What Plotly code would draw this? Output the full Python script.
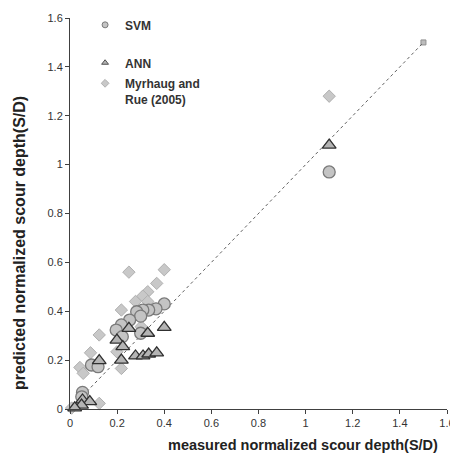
import plotly.graph_objects as go

# Data
svm_x = [1.10, 0.40, 0.365, 0.334, 0.309, 0.283, 0.30, 0.253, 0.218, 0.196, 0.222, 0.30, 0.091, 0.119, 0.053, 0.05]
svm_y = [0.97, 0.43, 0.41, 0.405, 0.405, 0.398, 0.38, 0.364, 0.344, 0.323, 0.296, 0.31, 0.18, 0.173, 0.068, 0.05]

ann_x = [1.10, 0.40, 0.33, 0.25, 0.199, 0.224, 0.124, 0.218, 0.278, 0.31, 0.334, 0.368, 0.053, 0.084, 0.049, 0.02]
ann_y = [1.08, 0.334, 0.31, 0.33, 0.282, 0.255, 0.198, 0.20, 0.217, 0.217, 0.225, 0.23, 0.037, 0.03, 0.016, 0.005]

myr_x = [1.10, 0.25, 0.40, 0.368, 0.33, 0.309, 0.278, 0.33, 0.218, 0.302, 0.124, 0.199, 0.087, 0.218, 0.042, 0.056, 0.124, 0.007]
myr_y = [1.28, 0.56, 0.57, 0.514, 0.48, 0.462, 0.44, 0.44, 0.405, 0.337, 0.303, 0.234, 0.23, 0.166, 0.17, 0.146, 0.023, 0.004]

line_x = [0, 1.5]
line_y = [0, 1.5]

tick_vals = [0, 0.2, 0.4, 0.6, 0.8, 1.0, 1.2, 1.4, 1.6]
tick_text = ["0", "0.2", "0.4", "0.6", "0.8", "1", "1.2", "1.4", "1.6"]

FONT = "Liberation Sans, Arial"

fig = go.Figure()

fig.add_trace(go.Scatter(x=line_x, y=line_y, mode="lines+markers",
                         line=dict(color="#606060", width=1, dash="dot"),
                         marker=dict(symbol="square", size=[0, 5], color="#a0a0a0"),
                         showlegend=False, cliponaxis=False, hoverinfo="skip"))

fig.add_trace(go.Scatter(x=myr_x, y=myr_y, mode="markers", showlegend=False,
                         marker=dict(symbol="diamond", size=9.5, color="#c8c8c8",
                                     line=dict(color="#b0b0b0", width=1)),
                         cliponaxis=False))
fig.add_trace(go.Scatter(x=svm_x, y=svm_y, mode="markers", showlegend=False,
                         marker=dict(symbol="circle", size=12, color="#c4c4c4",
                                     line=dict(color="#7a7a7a", width=1.3)),
                         cliponaxis=False))
fig.add_trace(go.Scatter(x=ann_x, y=ann_y, mode="markers", showlegend=False,
                         marker=dict(symbol="triangle-up", size=12, color="#b4b4b4",
                                     line=dict(color="#303030", width=1.3)),
                         cliponaxis=False))

# legend entries (one legend each, so they can be spaced like the original)
fig.add_trace(go.Scatter(x=[None], y=[None], mode="markers", name="<b>SVM</b>", legend="legend",
                         marker=dict(symbol="circle", size=6, color="#c4c4c4",
                                     line=dict(color="#7a7a7a", width=1))))
fig.add_trace(go.Scatter(x=[None], y=[None], mode="markers", name="<b>ANN</b>", legend="legend2",
                         marker=dict(symbol="triangle-up", size=6, color="#b4b4b4",
                                     line=dict(color="#505050", width=1))))
fig.add_trace(go.Scatter(x=[None], y=[None], mode="markers", name="<b>Myrhaug and<br>Rue (2005)</b>",
                         legend="legend3",
                         marker=dict(symbol="diamond", size=6, color="#c8c8c8",
                                     line=dict(color="#b0b0b0", width=1))))

axis_common = dict(range=[0, 1.6], tickvals=tick_vals, ticktext=tick_text,
                   showgrid=False, zeroline=False, showline=True, linecolor="#404040",
                   linewidth=1, ticks="outside", ticklen=4, tickcolor="#404040",
                   tickfont=dict(family=FONT, size=11, color="#333333"),
                   fixedrange=True)

leg_common = dict(xanchor="left", yanchor="middle", bgcolor="rgba(0,0,0,0)",
                  font=dict(family=FONT, size=12, color="#333333"), itemwidth=30,
                  valign="top")

# the page body adds an 8px offset; keep the page from overflowing vertically
fig.update_layout(
    width=450, height=446,
    margin=dict(l=62, r=11, t=10, b=45, autoexpand=False),
    paper_bgcolor="white", plot_bgcolor="white",
    xaxis=axis_common, yaxis=axis_common,
    legend=dict(x=0.04, y=0.982, **leg_common),
    legend2=dict(x=0.04, y=0.885, **leg_common),
    legend3=dict(x=0.04, y=0.812, **leg_common),
    annotations=[
        dict(text="<b>measured normalized scour depth(S/D)</b>", xref="paper", yref="paper",
             x=0.618, y=-0.092, xanchor="center", yanchor="middle", showarrow=False,
             font=dict(family=FONT, size=14.5, color="#222222")),
        dict(text="<b>predicted normalized scour depth(S/D)</b>", xref="paper", yref="paper",
             x=-0.132, y=0.425, xanchor="center", yanchor="middle", showarrow=False, textangle=-90,
             font=dict(family=FONT, size=16, color="#222222")),
    ],
)

fig.write_html("out.html")
